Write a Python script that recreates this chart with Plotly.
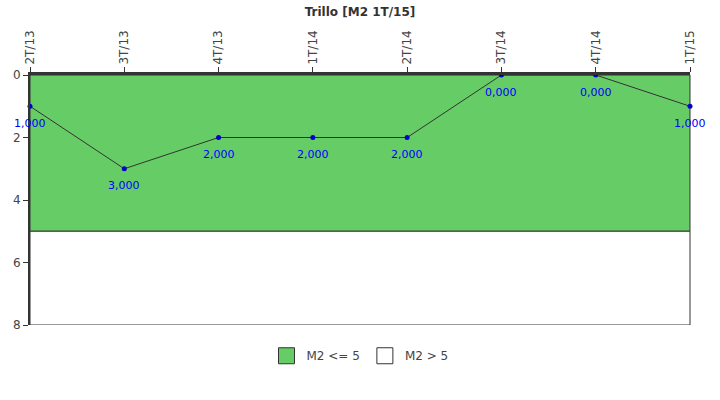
import plotly.graph_objects as go

# quarters and M2 values
quarters = ["2T/13", "3T/13", "4T/13", "1T/14", "2T/14", "3T/14", "4T/14", "1T/15"]
m2_values = [1, 3, 2, 2, 2, 0, 0, 1]
value_labels = ["1,000", "3,000", "2,000", "2,000", "2,000", "0,000", "0,000", "1,000"]

# threshold bands
limit = 5
y_max = 8
band_names = ["M2 <= 5", "M2 > 5"]
band_colors = ["#66cc66", "#ffffff"]

fig = go.Figure()

# green band (0..5) and white band (5..8)
fig.add_shape(type="rect", xref="paper", yref="y", x0=0, x1=1, y0=0, y1=limit,
              fillcolor=band_colors[0], line=dict(color="#333333", width=1), layer="below")
fig.add_shape(type="rect", xref="paper", yref="y", x0=0, x1=1, y0=limit, y1=y_max,
              fillcolor=band_colors[1], line=dict(color="#333333", width=1), layer="below")

fig.add_trace(go.Scatter(
    x=quarters, y=m2_values,
    mode="lines+markers",
    line=dict(color="#333333", width=1),
    marker=dict(color="#0000cc", size=5),
    showlegend=False,
    cliponaxis=False,
    hoverinfo="x+y",
))

for q, v, lab in zip(quarters, m2_values, value_labels):
    fig.add_annotation(x=q, y=v, text=lab, showarrow=False, yshift=-17,
                       font=dict(family="DejaVu Sans", size=11, color="#0000ff"))

# dummy traces for legend boxes
for name, col in zip(band_names, band_colors):
    fig.add_trace(go.Scatter(
        x=[None], y=[None], mode="markers", name=name,
        marker=dict(symbol="square", size=20, color=col, line=dict(color="#333333", width=1)),
    ))

fig.update_layout(
    width=720, height=400,
    margin=dict(l=30, r=30, t=75, b=75),
    paper_bgcolor="white", plot_bgcolor="white",
    title=dict(text="<b>Trillo [M2 1T/15]</b>", x=0.5, y=0.98, yanchor="top",
               font=dict(family="DejaVu Sans", size=12, color="#333333")),
    font=dict(family="DejaVu Sans", size=11, color="#444444"),
    legend=dict(orientation="h", x=0.5, xanchor="center", y=-0.065, yanchor="top",
                font=dict(size=12, color="#444444"), itemsizing="trace"),
    showlegend=True,
)

fig.update_xaxes(
    side="top", type="category", range=[0, len(quarters) - 1], automargin=False,
    tickangle=-90, ticks="outside", ticklen=5, tickcolor="#333333",
    showgrid=False, zeroline=False,
    showline=True, linecolor="#333333", linewidth=3, mirror=False,
    tickfont=dict(size=12, color="#444444"),
)
fig.update_yaxes(
    range=[y_max, 0], tickvals=[0, 2, 4, 6, 8], automargin=False,
    ticks="outside", ticklen=5, tickcolor="#333333",
    showgrid=False, zeroline=False,
    showline=True, linecolor="#333333", linewidth=2,
    tickfont=dict(size=12, color="#444444"),
)

# drop the default body margin so the chart sits at the window corner
fig.write_html("out.html", config={"displayModeBar": False},
               post_script="document.body.style.margin='0';")
